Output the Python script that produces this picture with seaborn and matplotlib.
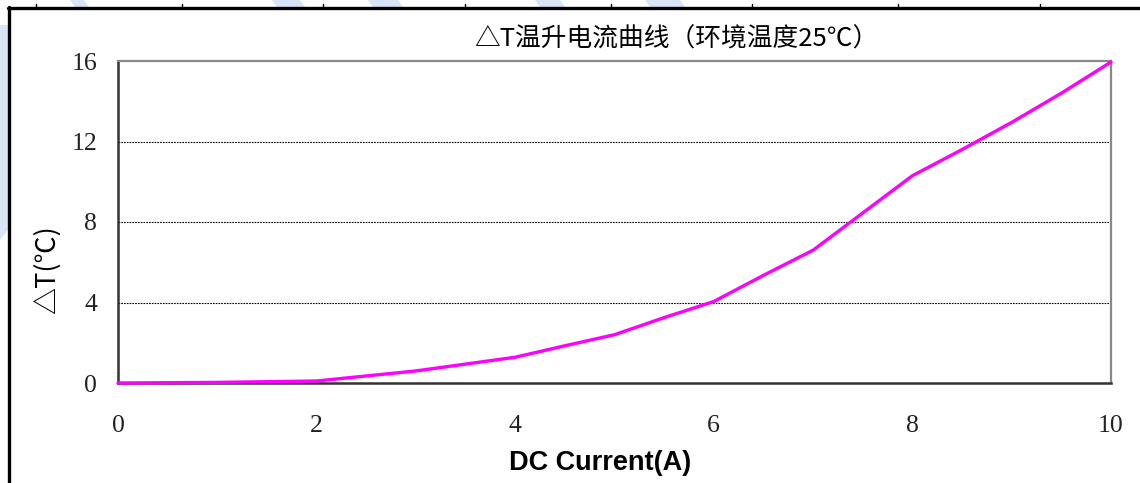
import matplotlib
matplotlib.use("Agg")
import matplotlib.pyplot as plt
from matplotlib.lines import Line2D
from matplotlib.patches import Polygon
import seaborn as sns
import pandas as pd

# DC current (A) and temperature rise ΔT (°C)
current = [0, 1, 2, 3, 4, 4.5, 5, 5.5, 6, 6.5, 7, 7.5, 8, 8.5, 9, 9.5, 10]
delta_t = [0, 0.03, 0.1, 0.6, 1.28, 1.85, 2.4, 3.25, 4.05, 5.35, 6.6, 8.45, 10.3, 11.6, 12.95, 14.4, 15.95]

x_ticks = [0, 2, 4, 6, 8, 10]
y_ticks = [0, 4, 8, 12, 16]

title = "△T温升电流曲线（环境温度25℃）"
x_label = "DC Current(A)"
y_label = "△T(℃)"

df = pd.DataFrame({"current": current, "delta_t": delta_t})

sns.set_theme(style="white")
plt.rcParams["font.family"] = ["Liberation Serif", "DejaVu Serif"]

W, H = 1140, 483
fig = plt.figure(figsize=(W / 100, H / 100), dpi=100)
fig.patch.set_facecolor("white")


def fx(px):
    return px / W


def fy(py):
    return 1 - py / H


# light blue diagonal watermark bands
band_color = "#d8e5f6"
for x0, x1 in [(70, 84), (272, 300), (368, 398), (535, 560), (645, 680)]:
    poly = Polygon([(fx(x0), fy(0)), (fx(x1), fy(0)), (fx(x1 + 5), fy(7)), (fx(x0 + 5), fy(7))],
                   closed=True, transform=fig.transFigure, facecolor=band_color,
                   edgecolor="none", zorder=0)
    fig.add_artist(poly)
fig.add_artist(Polygon([(fx(0), fy(25)), (fx(8), fy(25)), (fx(8), fy(230)), (fx(0), fy(240))],
                       closed=True, transform=fig.transFigure,
                       facecolor=band_color, edgecolor="none", zorder=0))

# outer frame (left and top edges)
fig.add_artist(Line2D([fx(9), fx(9)], [fy(7), fy(483)], transform=fig.transFigure,
                      color="black", linewidth=2.4, zorder=1))
fig.add_artist(Line2D([fx(8), fx(1140)], [fy(8), fy(8)], transform=fig.transFigure,
                      color="black", linewidth=2.4, zorder=1))
for mx in [36, 182, 323, 465, 611, 752, 898, 1040]:
    fig.add_artist(Line2D([fx(mx), fx(mx)], [fy(4), fy(8)], transform=fig.transFigure,
                          color="black", linewidth=1.0, zorder=1))

ax = fig.add_axes([fx(118), fy(383), fx(1111) - fx(118), fy(61) - fy(383)])
ax.set_facecolor("white")

sns.lineplot(data=df, x="current", y="delta_t", ax=ax, color="#ff00ff",
             linewidth=2.4, zorder=3, clip_on=False)

ax.set_xlim(0, 10)
ax.set_ylim(0, 16)
ax.set_xticks(x_ticks)
ax.set_yticks(y_ticks)
ax.set_xticklabels([str(v) for v in x_ticks])
ax.set_yticklabels([str(v) for v in y_ticks])

for v in [4, 8, 12]:
    ax.axhline(v, color="black", linestyle=(0, (1.5, 1.0)), linewidth=0.8, zorder=1)

ax.tick_params(axis="x", direction="in", length=6, width=1.2, color="#444444",
               pad=23, labelsize=18.5, labelcolor="#222222")
ax.tick_params(axis="y", direction="in", length=6, width=1.2, color="#444444",
               pad=15, labelsize=18.5, labelcolor="#222222")

for side in ["left", "bottom"]:
    ax.spines[side].set_color("#333333")
    ax.spines[side].set_linewidth(1.8)
for side in ["top", "right"]:
    ax.spines[side].set_color("#888888")
    ax.spines[side].set_linewidth(1.6)
    ax.spines[side].set_visible(True)

ax.set_xlabel("")
ax.set_ylabel("")
fig.text(fx(600), fy(463), x_label, ha="center", va="center",
         family=["Liberation Sans", "DejaVu Sans"], fontweight="bold",
         fontsize=19.5, color="black")
fig.text(fx(47), fy(270), y_label, rotation=90, ha="center", va="center",
         fontsize=19.5, color="black", family=["Noto Sans CJK SC", "DejaVu Sans"])

fig.text(fx(676), fy(40), title, ha="center", va="center", fontsize=18.5, color="black",
         family=["Noto Sans CJK SC", "DejaVu Sans"])

fig.savefig("out.png", dpi=100, facecolor="white")
